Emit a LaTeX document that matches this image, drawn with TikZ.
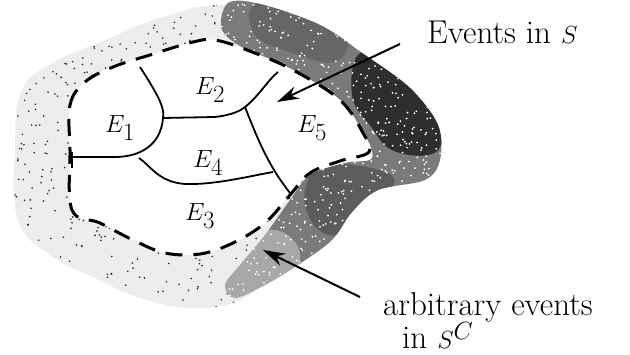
\documentclass[tikz,border=0pt]{standalone}
\usetikzlibrary{arrows.meta}
\begin{document}
\begin{tikzpicture}[x=1pt,y=-1pt,
  region/.style={line width=1.8pt},
  bound/.style={line width=3pt,dash pattern=on 17pt off 11pt},
  callout/.style={line width=2pt,-{Stealth[length=22pt,width=13pt]}},
  elabel/.style={font=\fontsize{34}{40}\selectfont},
  caption/.style={font=\fontsize{33}{27}\selectfont,inner sep=0pt}]
\useasboundingbox (0,0) rectangle (630,355);
\def\lightblob{plot[smooth cycle,tension=0.7] coordinates {(15,150) (22,90) (55,62) (110,38) (160,18) (230,6) (300,40) (335,120) (300,200) (270,270) (240,300) (190,308) (140,298) (95,278) (50,255) (18,220)}}
\def\horn{plot[smooth cycle,tension=0.55] coordinates {(228,3) (260,4) (320,25) (365,55) (410,88) (438,125) (440,160) (425,180) (378,190) (352,212) (332,240) (298,265) (265,285) (235,298) (225,285) (240,265) (265,235) (290,200) (310,175) (345,163) (372,158) (362,130) (335,98) (293,70) (247,50) (222,30)}}
\def\inside{plot[smooth cycle,tension=0.6] coordinates {(70,150) (70,105) (85,82) (113,67) (150,55) (193,42) (215,40) (247,50) (293,70) (340,100) (363,133) (369,152) (340,161) (310,173) (290,195) (265,223) (233,243) (200,254) (165,253) (133,240) (100,223) (72,210)}}
% light stippled background
\fill[gray!14] \lightblob;
\begin{scope}
  \clip \lightblob;
  \pgfmathsetseed{11}
  \foreach \i in {1,...,800}{
    \pgfmathsetmacro\rx{10+rnd*330}
    \pgfmathsetmacro\ry{rnd*310}
    \fill[black!85] (\rx,\ry) circle[radius=0.9pt];
  }
\end{scope}
% stippled horn, with darker cores
\begin{scope}
  \clip \horn;
  \fill[black!52] (200,0) rectangle (450,310);
  \fill[black!60] plot[smooth cycle,tension=0.7] coordinates {(255,4) (300,12) (345,35) (335,62) (290,52) (255,35)};
  \fill[black!82] plot[smooth cycle,tension=0.7] coordinates {(362,52) (405,78) (435,110) (442,140) (428,155) (392,150) (372,128) (352,95)};
  \fill[black!64] plot[smooth cycle,tension=0.7] coordinates {(325,165) (385,172) (390,190) (355,212) (335,235) (312,222) (305,190)};
  \fill[white,opacity=0.35] plot[smooth cycle,tension=0.7] coordinates {(215,250) (275,230) (300,262) (260,300) (215,305)};
  \pgfmathsetseed{5}
  \foreach \i in {1,...,900}{
    \pgfmathsetmacro\rx{215+rnd*230}
    \pgfmathsetmacro\ry{rnd*300}
    \fill[white] (\rx,\ry) circle[radius=1pt];
  }
\end{scope}
% white inside
\fill[white] \inside;
% dashed boundary
\draw[bound] \inside;
% inner region lines
\coordinate (p1) at (140,67);
\coordinate (p2) at (163,118);
\coordinate (p3) at (72,157);
\coordinate (p4) at (245,107);
\coordinate (p5) at (278,72);
\coordinate (p6) at (290,193);
\coordinate (p7) at (139,158);
\coordinate (p8) at (273,172);
\draw[region] (p1) .. controls (158,95) and (165,108) .. (p2) .. controls (161,145) and (140,157) .. (115,157) -- (p3);
\draw[region] (72,152) -- (72,168);
\draw[region] (p2) -- (215,117) .. controls (232,115) and (240,111) .. (p4) .. controls (258,97) and (268,80) .. (p5);
\draw[region] (p4) .. controls (258,140) and (268,165) .. (p6);
\draw[region] (p7) .. controls (150,165) and (158,182) .. (185,184) .. controls (215,185) and (250,176) .. (p8);
% labels
\node[elabel] (e1) at (120,128) {$E_1$};
\node[elabel] (e2) at (210,90) {$E_2$};
\node[elabel] (e4) at (208,163) {$E_4$};
\node[elabel] (e3) at (200,216) {$E_3$};
\node[elabel] (e5) at (312,128) {$E_5$};
% captions
\node[caption,anchor=base west] (ts) at (427,44) {Events in $S$};
\node[caption,anchor=north west,align=left] (tc) at (383,292) {arbitrary events\\\hspace{19pt}in $S^C$};
% callouts
\coordinate (a1s) at (400,44);
\coordinate (a1e) at (277,102);
\coordinate (a2s) at (360,297);
\coordinate (a2e) at (263,250);
\draw[callout] (a1s) -- (a1e);
\draw[callout] (a2s) -- (a2e);
\end{tikzpicture}
\end{document}
